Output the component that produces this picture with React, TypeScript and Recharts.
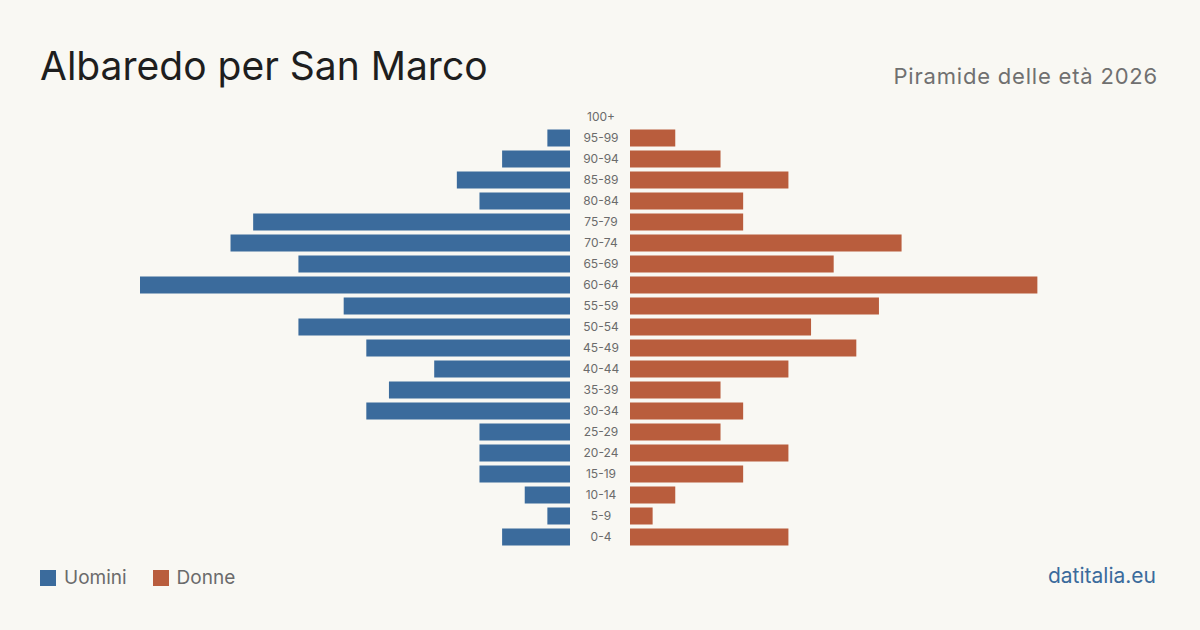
import React from 'react';
import { BarChart, Bar, XAxis, YAxis } from 'recharts';

const AGES = ['100+', '95-99', '90-94', '85-89', '80-84', '75-79', '70-74', '65-69', '60-64', '55-59', '50-54', '45-49', '40-44', '35-39', '30-34', '25-29', '20-24', '15-19', '10-14', '5-9', '0-4'];
const MEN = [0, 1, 3, 5, 4, 14, 15, 12, 19, 10, 12, 9, 6, 8, 9, 4, 4, 4, 2, 1, 3];
const WOMEN = [0, 2, 4, 7, 5, 5, 12, 9, 18, 11, 8, 10, 7, 4, 5, 4, 7, 5, 2, 1, 7];
const MAX = 19;

const BLUE = '#3b6b9c';
const ORANGE = '#b95d3d';
const BG = '#f9f8f3';
const FONT = 'Inter, "Noto Sans", sans-serif';

const data = AGES.map((age, i) => ({ age, men: MEN[i], women: WOMEN[i] }));

const AgeTick = ({ x, y, payload }: any) => (
  <text x={x - 21} y={y} dy={4} textAnchor="middle" fill="#6b6b6b" fontSize={12} fontFamily={FONT}>
    {payload.value}
  </text>
);

const App: React.FC = () => {
  return (
    <div style={{ position: 'fixed', left: 0, top: 0, width: 1200, height: 630, background: BG, fontFamily: FONT, overflow: 'hidden' }}>
      <div style={{ position: 'absolute', left: 40, top: 42, fontSize: 39, color: '#1e1e1e' }}>
        Albaredo per San Marco
      </div>
      <div style={{ position: 'absolute', right: 42, top: 63, fontSize: 22, color: '#707070', letterSpacing: 0.8 }}>
        Piramide delle età 2026
      </div>

      <div style={{ position: 'absolute', left: 0, top: 0 }}>
        <BarChart width={570} height={630} data={data} layout="vertical" margin={{ top: 106.5, bottom: 82.5, left: 140, right: 0 }}>
          <XAxis type="number" domain={[0, MAX]} reversed hide />
          <YAxis type="category" dataKey="age" hide />
          <Bar dataKey="men" fill={BLUE} barSize={17} isAnimationActive={false} />
        </BarChart>
      </div>

      <div style={{ position: 'absolute', left: 570, top: 0 }}>
        <BarChart width={630} height={630} data={data} layout="vertical" margin={{ top: 106.5, bottom: 82.5, left: 0, right: 140 }}>
          <XAxis type="number" domain={[0, MAX]} hide />
          <YAxis type="category" dataKey="age" width={60} axisLine={false} tickLine={false} tick={<AgeTick />} interval={0} />
          <Bar dataKey="women" fill={ORANGE} barSize={17} isAnimationActive={false} />
        </BarChart>
      </div>

      <div style={{ position: 'absolute', left: 40, top: 566, display: 'flex', alignItems: 'center', fontSize: 19, color: '#6b6b6b' }}>
        <span style={{ width: 16, height: 16, background: BLUE, display: 'inline-block', marginRight: 8 }} />
        <span style={{ marginRight: 26 }}>Uomini</span>
        <span style={{ width: 16, height: 16, background: ORANGE, display: 'inline-block', marginRight: 8 }} />
        <span>Donne</span>
      </div>
      <div style={{ position: 'absolute', right: 44, top: 563, fontSize: 21, color: BLUE }}>
        datitalia.eu
      </div>
    </div>
  );
};

export default App;
